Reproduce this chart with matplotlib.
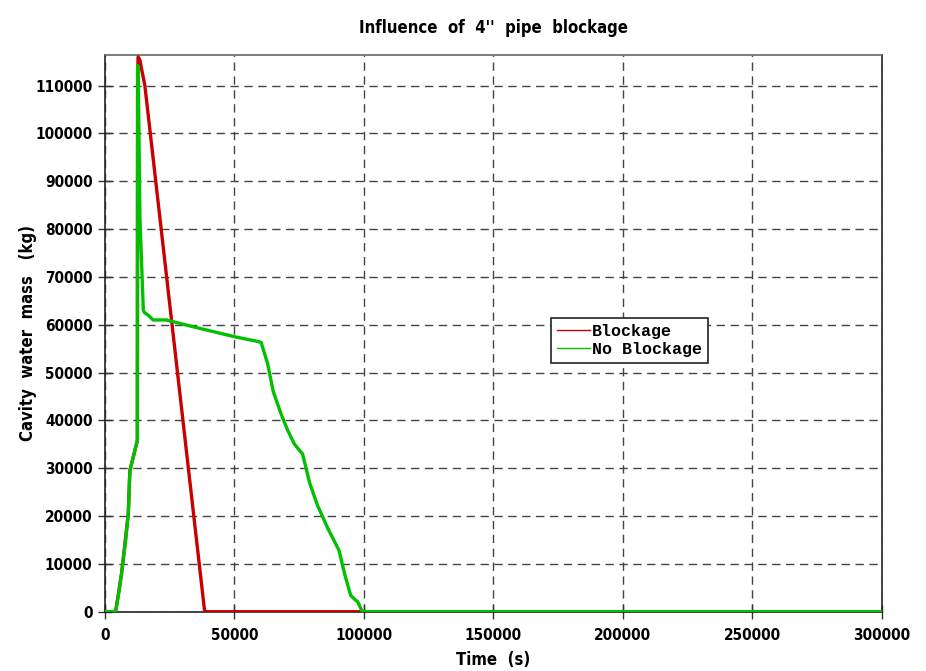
import matplotlib
matplotlib.use("Agg")
import matplotlib.pyplot as plt
from matplotlib import font_manager
from matplotlib.lines import Line2D

# ---- data ----
blockage_t = [0, 4100, 6400, 9000, 9600, 10900, 12500, 12600, 12800, 13500, 14300, 15400, 38500, 300000]
blockage_m = [0, 0, 8000, 20500, 29500, 32300, 35800, 112000, 116000, 115300, 113000, 110000, 0, 0]

noblock_t = [0, 4100, 5200, 6400, 8000, 9000, 9600, 10900, 12500, 12600, 12800, 13500, 14400, 14800,
             15300, 16700, 18600, 23700, 34600, 50000, 59000, 60300, 62800, 65000, 67900, 70500,
             73100, 75000, 76300, 79000, 82100, 86000, 90400, 92500, 94900, 96800, 97500, 99400, 300000]
noblock_m = [0, 0, 3500, 8000, 15000, 20500, 29500, 32300, 35800, 114200, 114000, 82000, 69000, 63000,
             62500, 62000, 61000, 61000, 59500, 57500, 56500, 56300, 51900, 46000, 41500, 38000,
             35100, 33800, 33000, 27000, 22200, 17500, 12800, 8000, 3400, 2400, 2200, 0, 0]

x_ticks = [0, 50000, 100000, 150000, 200000, 250000, 300000]
y_ticks = list(range(0, 110001, 10000))

title = "Influence  of  4''  pipe  blockage"
xlabel = "Time  (s)"
ylabel = "Cavity  water  mass   (kg)"
series_names = ["Blockage", "No Blockage"]

# ---- fonts ----
cond = [f for f in font_manager.fontManager.ttflist
        if f.name == "DejaVu Sans" and "ondensed" in f.fname and "Bold" in f.fname
        and "Oblique" not in f.fname]
if cond:
    tick_font = font_manager.FontProperties(fname=cond[0].fname, size=11)
    lab_font = font_manager.FontProperties(fname=cond[0].fname, size=12)
else:
    tick_font = font_manager.FontProperties(family="Liberation Sans", weight="bold", size=10.5)
    lab_font = font_manager.FontProperties(family="Liberation Sans", weight="bold", size=11)
mono = "Liberation Mono"

fig = plt.figure(figsize=(9.26, 6.71), dpi=100)
ax_l, ax_r, ax_t, ax_b = 105, 881.7, 55, 611.7
ax = fig.add_axes([ax_l/926, 1 - ax_b/671, (ax_r-ax_l)/926, (ax_b-ax_t)/671])

red = "#C80000"
green = "#00C000"
ax.plot(blockage_t, blockage_m, color=red, lw=2.4, zorder=3, solid_joinstyle="round")
ax.plot(noblock_t, noblock_m, color=green, lw=2.4, zorder=4, solid_joinstyle="round")

ax.set_xlim(0, 300000)
ax.set_ylim(0, 116400)
ax.set_xticks(x_ticks)
ax.set_yticks(y_ticks)
ax.set_xticklabels([str(v) for v in x_ticks], fontproperties=tick_font)
ax.set_yticklabels([str(v) for v in y_ticks], fontproperties=tick_font)
ax.tick_params(direction="inout", length=10, width=1, color="#333333", pad=4)
ax.tick_params(axis="x", pad=7)

ax.grid(True, linestyle=(0, (6, 4)), color="#444444", lw=1)
for s in ax.spines.values():
    s.set_color("#222222")
    s.set_linewidth(1.2)
ax.spines["top"].set_color("#666666")

ax.set_title(title, fontproperties=lab_font, pad=16)
ax.set_xlabel(xlabel, fontproperties=lab_font)
ax.set_ylabel(ylabel, fontproperties=lab_font)
ax.xaxis.set_label_coords(0.5, (ax_b - 651) / (ax_b - ax_t))
ax.yaxis.set_label_coords((37 - ax_l) / (ax_r - ax_l), 0.5)

handles = [Line2D([], [], color=red, lw=1), Line2D([], [], color=green, lw=1)]
leg = ax.legend(handles, series_names, loc="upper left",
                bbox_to_anchor=((551-ax_l)/(ax_r-ax_l), 1 - (318-ax_t)/(ax_b-ax_t)),
                prop={"family": mono, "weight": "bold", "size": 12},
                frameon=True, fancybox=False, edgecolor="#222222", framealpha=1,
                handlelength=2.0, handletextpad=0.1, borderpad=0.35, labelspacing=0.2,
                borderaxespad=0)
leg.get_frame().set_linewidth(1.2)

fig.savefig("out.png", dpi=100)
